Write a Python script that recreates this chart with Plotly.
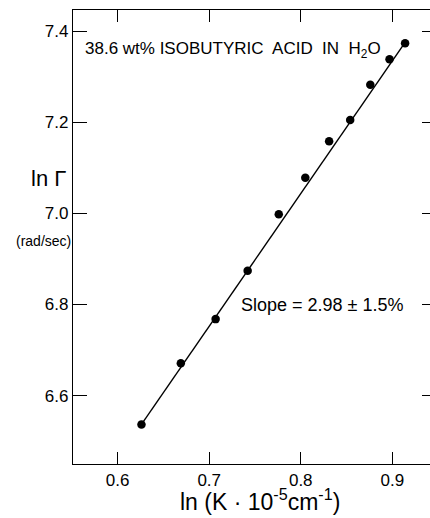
import plotly.graph_objects as go

# Data
ln_k = [0.626, 0.669, 0.707, 0.742, 0.776, 0.805, 0.831, 0.854, 0.876, 0.897, 0.914]
ln_gamma = [6.537, 6.671, 6.768, 6.874, 6.998, 7.078, 7.158, 7.205, 7.282, 7.338, 7.373]
fit_x = [0.626, 0.914]
fit_y = [6.537, 7.375]
x_ticks = [0.6, 0.7, 0.8, 0.9]
x_tick_text = ["0.6", "0.7", "0.8", "0.9"]
y_ticks = [6.6, 6.8, 7.0, 7.2, 7.4]
y_tick_text = ["6.6", "6.8", "7.0", "7.2", "7.4"]

W, H = 430, 518
ML, MR, MT, MB = 73, 0, 10, 54
FONT = "Liberation Sans, Arial, sans-serif"

fig = go.Figure()
fig.add_trace(go.Scatter(x=fit_x, y=fit_y, mode="lines",
                         line=dict(color="black", width=1.4),
                         hoverinfo="skip", showlegend=False))
fig.add_trace(go.Scatter(x=ln_k, y=ln_gamma, mode="markers",
                         marker=dict(color="black", size=8.5),
                         showlegend=False))
# right-hand tick stubs (axis itself lies just beyond the picture)
fig.add_trace(go.Scatter(x=[None], y=[None], yaxis="y2", showlegend=False))

fig.update_layout(
    width=W, height=H,
    margin=dict(l=ML, r=MR, t=MT, b=MB, pad=0),
    paper_bgcolor="white", plot_bgcolor="white",
    font=dict(family=FONT, color="black", size=17),
    xaxis=dict(range=[0.5512, 0.9412], tickvals=x_ticks, ticktext=x_tick_text,
               ticks="inside", ticklen=12, tickwidth=1.3, tickcolor="black",
               showline=True, linecolor="black", linewidth=1.3, mirror="ticks",
               showgrid=False, zeroline=False,
               tickfont=dict(size=17, family=FONT)),
    yaxis=dict(range=[6.4502, 7.4461], tickvals=y_ticks, ticktext=y_tick_text,
               ticks="inside", ticklen=14, tickwidth=1.3, tickcolor="black",
               showline=True, linecolor="black", linewidth=1.3, mirror=False,
               showgrid=False, zeroline=False,
               tickfont=dict(size=17, family=FONT)),
    yaxis2=dict(range=[6.4502, 7.4461], tickvals=y_ticks, overlaying="y",
                side="right", anchor="x", ticks="inside", ticklen=8,
                tickwidth=1.3, tickcolor="black", showticklabels=False,
                showline=False, showgrid=False, zeroline=False),
)

# text placements given in picture pixels, converted to plot-area fractions
plot_w = W - ML - MR
plot_h = H - MT - MB

def fx(p):
    return (p - ML) / plot_w

def fy(p):
    return (H - p - MB) / plot_h

annotations = [
    dict(text="38.6 wt% ISOBUTYRIC  ACID  IN  H<sub>2</sub>O", x=fx(83), y=fy(50),
         xanchor="left", yanchor="middle", font=dict(size=17)),
    dict(text="Slope = 2.98 ± 1.5%", x=fx(239), y=fy(305),
         xanchor="left", yanchor="middle", font=dict(size=18)),
    dict(text="ln Γ", x=fx(29), y=fy(178),
         xanchor="left", yanchor="middle", font=dict(size=22)),
    dict(text="(rad/sec)", x=fx(14), y=fy(241),
         xanchor="left", yanchor="middle", font=dict(size=14)),
    dict(text="ln (K · 10<sup>-5</sup>cm<sup>-1</sup>)", x=fx(260), y=fy(500),
         xanchor="center", yanchor="middle", font=dict(size=23)),
]
for a in annotations:
    fig.add_annotation(xref="paper", yref="paper", showarrow=False, **a)

fig.write_html("out.html", config={"displayModeBar": False},
               post_script="document.body.style.margin='0';document.body.style.overflow='hidden';")
